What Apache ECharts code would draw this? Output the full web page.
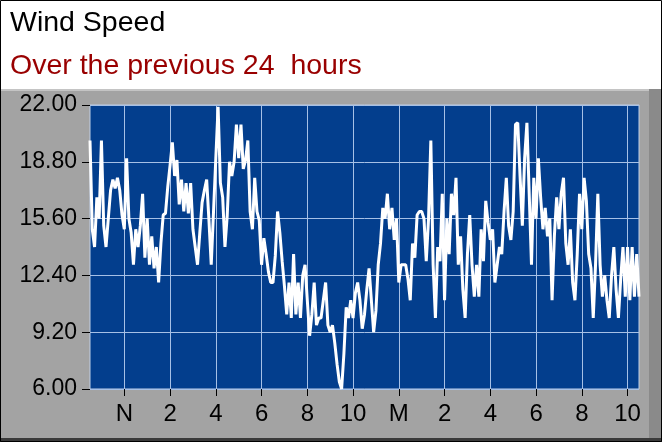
<!DOCTYPE html>
<html>
<head>
    <meta charset="UTF-8">
    <title>Wind Speed</title>
    <style>
        * {
            margin: 0;
            padding: 0
        }

        #chart {
            width: 662px;
            height: 442px;
        }
    </style>
</head>
<body>
<div id="chart"></div>
<script type="text/javascript" src="https://cdn.jsdelivr.net/npm/echarts@6/dist/echarts.min.js"></script>
<script type="text/javascript">
    // readings every 6 minutes, starting 10:30 (day before)
    var startTime = '10:30';
    var stepMinutes = 6;

    var speed_part1 = [
        20.0, 15.0, 14.0, 16.8, 15.6, 20.0, 15.2, 14.0, 15.6, 17.2,
        17.8, 17.3, 17.9, 17.2, 15.8, 15.0, 19.0, 15.6, 14.8, 13.0,
        15.0, 14.0, 15.2, 17.0, 13.4, 15.6, 13.0, 14.6, 12.8, 14.0,
        12.0, 14.2, 15.8, 15.9, 17.4, 18.6, 19.9, 18.0, 18.9, 16.4,
        17.8, 16.0, 17.6, 15.9, 17.6, 15.0, 14.0, 13.0, 14.8, 16.5,
        17.2, 17.8, 15.5, 13.0, 16.0, 19.0, 21.9, 17.6, 16.8, 14.0,
        15.8, 18.8, 18.0, 18.8, 20.9, 19.0, 20.9, 18.4, 18.9, 20.0
    ];
    var speed_part2 = [
        16.0, 15.0, 17.9, 16.0, 15.5, 13.0, 14.5, 13.6, 12.6, 12.0,
        12.0, 13.5, 16.0, 14.8, 13.2, 11.8, 10.2, 12.0, 10.0, 13.6,
        10.2, 12.0, 10.0, 12.4, 13.0, 11.0, 9.0, 10.2, 12.0, 9.6,
        10.0, 10.0, 11.0, 12.0, 9.6, 9.2, 9.6, 8.6, 7.4, 6.4,
        6.0, 8.0, 10.6, 10.0, 11.0, 10.0, 11.4, 12.0, 11.0, 9.4,
        10.2, 11.6, 12.8, 11.0, 9.2, 10.4, 13.0, 14.2, 16.2, 15.6,
        17.0, 15.0, 16.2, 14.4, 15.6, 12.0, 13.0
    ];
    var speed_part3 = [
        13.0, 13.0, 12.2, 11.0, 14.2, 13.4, 15.8, 16.0, 16.0, 15.6,
        13.2, 15.6, 20.0, 13.0, 10.0, 14.0, 13.2, 17.0, 11.0, 15.6,
        13.6, 17.0, 15.8, 17.9, 13.0, 14.6, 11.6, 10.0, 13.6, 15.8,
        13.0, 11.2, 13.0, 11.2, 15.0, 13.2, 16.6, 15.4, 14.4, 15.0,
        12.0, 13.0, 14.0, 13.6, 16.0, 17.9, 15.2, 14.4, 16.0, 20.9,
        21.0, 18.0, 15.2, 19.0, 21.0, 17.0, 13.0, 17.9, 15.6, 19.0,
        16.8, 15.0, 16.2, 14.6, 15.6, 11.0, 14.6, 16.8
    ];
    var speed_part4 = [
        15.0, 17.0, 17.9, 14.2, 13.0, 15.0, 12.0, 11.0, 13.6, 17.0,
        15.0, 17.9, 16.6, 13.6, 12.8, 10.0, 13.0, 17.0, 13.0, 11.2,
        12.4, 11.0, 10.0, 12.4, 14.0, 11.6, 10.0, 12.2, 14.0, 11.2,
        14.0, 11.0, 14.0, 11.2, 13.6, 11.2
    ];
    var speeds = speed_part1.concat(speed_part2, speed_part3, speed_part4);

    var yTicks = [6.00, 9.20, 12.40, 15.60, 18.80, 22.00];

    // time labels for the category axis
    var times = [];
    var t0 = parseInt(startTime.slice(0, 2)) * 60 + parseInt(startTime.slice(3));
    for (var i = 0; i < speeds.length; i++) {
        var m = (t0 + i * stepMinutes) % 1440;
        var hh = Math.floor(m / 60), mm = m % 60;
        times.push((hh < 10 ? '0' : '') + hh + ':' + (mm < 10 ? '0' : '') + mm);
    }

    // only every second full hour gets a tick
    function evenHour(idx, value) {
        return value.slice(3) === '00' && parseInt(value.slice(0, 2)) % 2 === 0;
    }

    var font = 'Liberation Sans, Arial, sans-serif';
    var myChart = echarts.init(document.getElementById('chart'));

    var option = {
        animation: false,
        backgroundColor: '#ffffff',
        graphic: [
            {type: 'rect', z: -10, shape: {x: 0, y: 89, width: 662, height: 353}, style: {fill: '#a3a3a3'}},
            {type: 'rect', z: -9, shape: {x: 0, y: 89, width: 662, height: 2}, style: {fill: '#c4c4c4'}},
            {type: 'rect', z: -9, shape: {x: 649, y: 89, width: 13, height: 353}, style: {fill: '#8a8a8a'}},
            {type: 'rect', z: -9, shape: {x: 0, y: 438, width: 662, height: 4}, style: {fill: '#3a3a3a'}},
            {type: 'rect', z: 20, shape: {x: 0.5, y: 0.5, width: 661, height: 441}, style: {fill: 'none', stroke: '#000', lineWidth: 1}}
        ],
        title: [{
            text: 'Wind Speed',
            left: 5,
            top: 4,
            textStyle: {fontFamily: font, fontSize: 28.5, fontWeight: 'normal', color: '#000000'}
        }, {
            text: 'Over the previous 24  hours',
            left: 5,
            top: 47,
            textStyle: {fontFamily: font, fontSize: 28.5, fontWeight: 'normal', color: '#990000'}
        }],
        grid: {
            show: true,
            left: 90,
            right: 23,
            top: 105,
            bottom: 53,
            backgroundColor: '#033e8d',
            borderColor: '#c0cfe6',
            borderWidth: 1
        },
        xAxis: {
            type: 'category',
            data: times,
            boundaryGap: false,
            axisLine: {show: false},
            axisTick: {show: true, interval: evenHour, length: 7, lineStyle: {color: '#000'}},
            axisLabel: {
                interval: evenHour,
                margin: 13,
                fontFamily: font,
                fontSize: 24,
                color: '#000',
                formatter: function (v) {
                    var h = parseInt(v.slice(0, 2));
                    if (h === 12) return 'N';
                    if (h === 0) return 'M';
                    return String(h % 12);
                }
            },
            splitLine: {show: true, interval: evenHour, lineStyle: {color: '#a6c0e6', width: 1}}
        },
        yAxis: {
            type: 'value',
            min: yTicks[0],
            max: yTicks[yTicks.length - 1],
            interval: yTicks[1] - yTicks[0],
            axisLine: {show: false},
            axisTick: {show: true, length: 8, lineStyle: {color: '#000'}},
            axisLabel: {
                margin: 13,
                fontFamily: font,
                fontSize: 23,
                color: '#000',
                formatter: function (v) {
                    return v.toFixed(2);
                }
            },
            splitLine: {show: true, lineStyle: {color: '#a6c0e6', width: 1}}
        },
        series: [{
            type: 'line',
            data: speeds,
            showSymbol: false,
            lineStyle: {color: '#ffffff', width: 3}
        }]
    };

    myChart.setOption(option);
</script>
</body>
</html>
